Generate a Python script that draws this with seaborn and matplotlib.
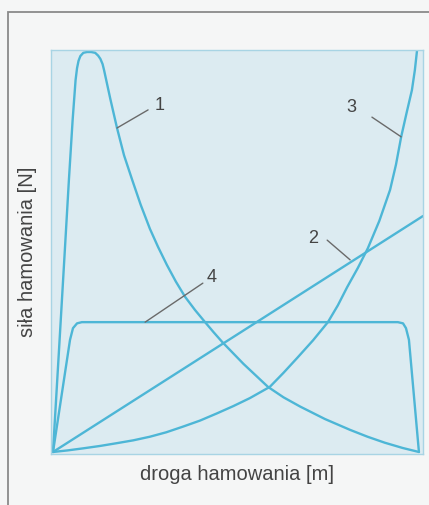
import numpy as np
import pandas as pd
import seaborn as sns
import matplotlib.pyplot as plt
from matplotlib.patches import Rectangle

# curve points (x: droga 0-100, y: sila 0-100)
c1_x = [0, 1.6, 3.2, 4.3, 5.3, 6.1, 6.5, 6.9, 7.4, 8.2, 9.2, 10.3, 11.4, 12.2, 12.8,
        13.4, 13.8, 15.5, 17.3, 19.2, 21.4, 23.7, 26.2, 28.4, 30.8, 33.2, 35.7, 38.4,
        41.1, 43.4, 45.7, 51.5, 58.1, 62.3, 66.8, 73.5, 80.3, 85.0, 89.7, 94.5, 98.9]
c1_y = [0, 25.0, 50.2, 67.7, 82.5, 92.5, 95.5, 97.3, 98.5, 99.3, 99.5, 99.5, 99.3, 98.6,
        97.8, 96.5, 95.0, 87.8, 80.6, 73.8, 67.7, 61.5, 55.5, 51.0, 46.5, 42.4, 38.6, 35.3,
        32.3, 29.8, 27.4, 21.9, 16.2, 13.6, 11.3, 8.2, 5.5, 3.8, 2.3, 1.0, 0]

c2_x = [0, 100]
c2_y = [0, 58.7]

c3_x = [0, 4.0, 8.1, 12.7, 17.3, 21.7, 26.2, 30.6, 35.1, 39.7, 44.3, 48.7, 53.2, 58.6,
        62.3, 66.2, 70.3, 74.3, 77.0, 79.5, 82.4, 85.1, 88.2, 91.1, 92.7, 94.1, 95.6,
        97.0, 97.8, 98.4]
c3_y = [0, 0.4, 0.9, 1.5, 2.2, 2.9, 3.8, 4.9, 6.3, 7.8, 9.6, 11.4, 13.4, 16.2,
        19.7, 23.6, 27.8, 32.3, 36.5, 41.0, 45.8, 50.7, 57.5, 65.2, 71.5, 78.4, 84.5,
        90.0, 95.0, 100]

c4_x = [0, 4.6, 5.4, 6.5, 7.8, 93.2, 94.6, 95.4, 96.2, 98.9]
c4_y = [0, 27.9, 30.8, 32.0, 32.3, 32.3, 32.0, 30.8, 27.9, 0]

curve_names = ["1", "2", "3", "4"]

frames = []
for name, xs, ys in zip(curve_names, [c1_x, c2_x, c3_x, c4_x], [c1_y, c2_y, c3_y, c4_y]):
    frames.append(pd.DataFrame({"droga": xs, "sila": ys, "krzywa": name}))
df = pd.concat(frames, ignore_index=True)

line_color = "#4db6d6"
sns.set_style("white")
plt.rcParams["font.family"] = ["Liberation Sans", "DejaVu Sans"]

fig = plt.figure(figsize=(4.29, 5.05), dpi=100)
fig.patch.set_facecolor("#f5f6f6")
# outer gray frame (only top/left visible)
fig.patches.append(Rectangle((8 / 429, -0.1), 1.2, (505 - 12) / 505 + 0.1,
                             transform=fig.transFigure, fill=False,
                             edgecolor="#8a8a8a", lw=1.3))

ax = fig.add_axes([51 / 429, 51 / 505, 372 / 429, 404 / 505])
ax.set_facecolor("#dcebf1")

for name in curve_names:
    sub = df[df["krzywa"] == name]
    sns.lineplot(data=sub, x="droga", y="sila", sort=False, estimator=None,
                 color=line_color, lw=1.7, ax=ax, solid_capstyle="round",
                 solid_joinstyle="round")

ax.set_xlim(-0.54, 100)
ax.set_ylim(-0.5, 100)
ax.set_xticks([])
ax.set_yticks([])
for s in ax.spines.values():
    s.set_color("#a8d4e4")
    s.set_linewidth(1.0)

ax.set_xlabel("droga hamowania [m]", fontsize=14.5, color="#444444", labelpad=8)
ax.set_ylabel("siła hamowania [N]", fontsize=14.5, color="#444444", labelpad=10)

# numbered leaders
leaders = [("1", (28.9, 86.3), (25.7, 85.1), (17.3, 80.6)),
           ("3", (80.5, 85.8), (86.2, 83.3), (94.1, 78.4)),
           ("2", (70.3, 53.2), (74.1, 52.7), (80.3, 47.8)),
           ("4", (43.0, 43.3), (40.5, 42.0), (24.9, 32.3))]
for lab, tpos, p0, p1 in leaders:
    ax.plot([p0[0], p1[0]], [p0[1], p1[1]], color="#6a6a6a", lw=1.0)
    ax.text(tpos[0], tpos[1], lab, fontsize=13, color="#444444",
            ha="center", va="center")

fig.savefig("out.png", dpi=100, facecolor=fig.get_facecolor())
